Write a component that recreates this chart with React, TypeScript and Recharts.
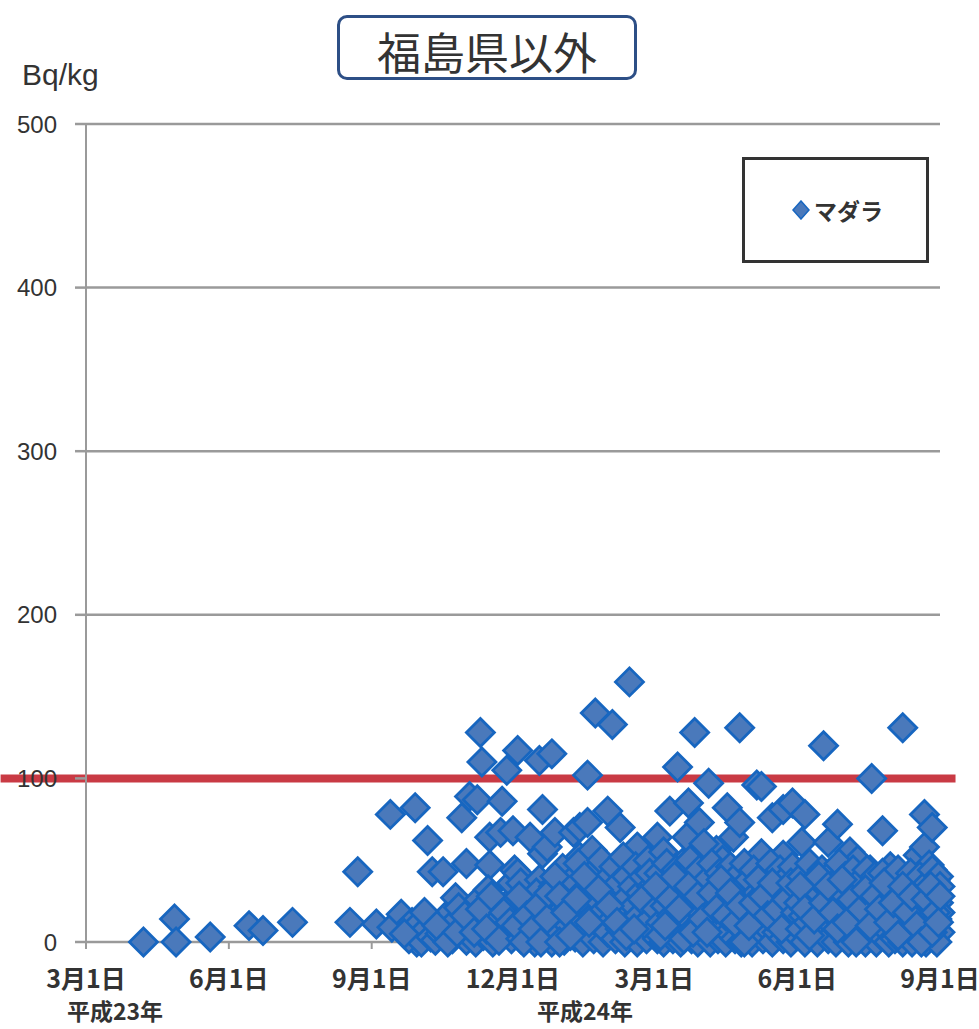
import { CartesianGrid, Legend, ReferenceLine, Scatter, ScatterChart, XAxis, YAxis } from "recharts";

// 2011年3月1日からの経過日数, セシウム濃度 (Bq/kg)
const early2011: [number, number][] = [
  [37, 0], [57, 14], [58, 0], [80, 3], [105, 10], [114, 7], [133, 12],
  [170, 12], [175, 43], [187, 11], [196, 78], [197, 9],
];

const autumn2011: [number, number][] = [
  [203, 17], [211, 7], [212, 82], [213, 0], [220, 62], [223, 43], [230, 43],
  [242, 76], [245, 48], [247, 89], [252, 87], [254, 128], [255, 110], [260, 47],
  [260, 64], [267, 67], [268, 86], [271, 105], [275, 68],
  [208, 2], [210, 12], [215, 12], [216, 0], [219, 8], [222, 3], [225, 1], [228, 5],
  [231, 15], [234, 9], [236, 2], [238, 27], [240, 21], [243, 4], [245, 1], [247, 10],
  [249, 15], [251, 0], [253, 26], [256, 4], [257, 12], [259, 32], [262, 0], [263, 20],
  [265, 14], [267, 6], [270, 9], [272, 24], [274, 36], [274, 2],
  [205, 5], [218, 18], [226, 10], [233, 0], [239, 6], [244, 16], [250, 6], [254, 20],
  [258, 8], [261, 28], [266, 1], [269, 18], [273, 12],
];

const winter2012: [number, number][] = [
  [276, 44], [278, 42], [278, 117], [280, 36], [286, 64], [292, 111], [294, 81],
  [292, 38], [294, 54], [294, 28], [297, 58], [300, 115], [302, 67], [314, 67],
  [318, 52], [318, 70], [323, 102], [323, 73], [323, 42], [326, 56], [328, 140],
  [336, 80], [339, 133], [344, 70], [350, 159], [355, 58],
  [280, 2], [281, 14], [283, 24], [285, 6], [287, 18], [289, 0], [290, 30], [292, 10],
  [295, 3], [296, 20], [299, 12], [300, 0], [301, 34], [303, 25], [304, 7], [306, 16],
  [307, 45], [308, 1], [310, 28], [311, 10], [313, 38], [314, 20], [315, 3], [317, 48],
  [318, 14], [319, 30], [320, 0], [322, 22], [323, 8], [325, 35], [326, 16], [327, 2],
  [328, 44], [329, 26], [331, 10], [332, 50], [333, 0], [334, 20], [335, 38], [336, 6],
  [338, 30], [339, 14], [340, 46], [341, 2], [342, 24], [343, 36], [344, 8], [345, 18],
  [346, 52], [347, 0], [348, 40], [349, 28], [350, 12], [351, 4], [352, 34], [353, 22],
  [354, 46], [355, 0], [356, 16], [357, 30], [358, 8], [359, 40], [360, 24], [361, 2],
  [362, 50], [363, 14], [364, 34], [365, 6],
  [277, 10], [279, 28], [282, 0], [284, 16], [288, 8], [291, 22], [293, 0], [297, 14],
  [298, 30], [305, 0], [302, 40], [305, 28], [309, 18], [312, 4], [316, 26], [321, 40],
  [324, 12], [330, 32], [337, 22], [342, 12], [348, 4], [353, 8], [358, 26], [363, 42],
];

const spring2012: [number, number][] = [
  [368, 64], [372, 55], [376, 80], [381, 107], [387, 64], [388, 85], [392, 128],
  [395, 73], [401, 97], [406, 56], [413, 82], [417, 64], [421, 73], [421, 131],
  [432, 96], [435, 95], [435, 54], [442, 76], [449, 81], [449, 53], [455, 85],
  [384, 48], [398, 60], [410, 50],
  [367, 20], [368, 2], [369, 42], [370, 12], [371, 30], [372, 0], [373, 22], [374, 48],
  [375, 8], [376, 36], [377, 16], [378, 2], [379, 26], [380, 44], [381, 10], [382, 32],
  [383, 0], [384, 18], [385, 40], [386, 6], [387, 28], [388, 14], [389, 50], [390, 2],
  [391, 22], [392, 36], [393, 10], [394, 0], [395, 44], [396, 18], [397, 30], [398, 4],
  [399, 12], [400, 38], [401, 24], [402, 0], [403, 48], [404, 16], [405, 8], [406, 32],
  [407, 2], [408, 42], [409, 20], [410, 12], [411, 28], [412, 0], [413, 36], [414, 6],
  [415, 46], [416, 18], [417, 26], [418, 2], [419, 40], [420, 10], [421, 32], [422, 0],
  [423, 20], [424, 48], [425, 14], [426, 4], [427, 38], [428, 26], [429, 0], [430, 44],
  [431, 12], [432, 30], [433, 6], [434, 20], [435, 40], [436, 2], [437, 16], [438, 34],
  [439, 8], [440, 24], [441, 48], [442, 0], [443, 14], [444, 36], [445, 6], [446, 28],
  [447, 44], [448, 18], [449, 2], [450, 32], [451, 10], [452, 40], [453, 22], [454, 0],
  [455, 46], [456, 14], [457, 28], [458, 4],
  [367, 34], [370, 4], [373, 10], [376, 26], [379, 40], [382, 20], [385, 2], [388, 34],
  [391, 6], [394, 28], [397, 14], [400, 6], [403, 30], [406, 20], [409, 38], [412, 16],
  [415, 30], [418, 12], [421, 22], [424, 0], [427, 10], [430, 24], [433, 38], [436, 28],
  [439, 16], [442, 36], [445, 20], [448, 8], [451, 26], [454, 36], [457, 18],
];

const summer2012: [number, number][] = [
  [461, 61], [463, 78], [475, 120], [478, 61], [484, 72], [492, 55], [497, 50],
  [505, 44], [506, 100], [513, 68], [518, 46], [526, 131], [536, 53], [540, 78],
  [540, 58], [543, 47], [545, 70], [547, 38],
  [459, 24], [460, 8], [461, 40], [462, 16], [463, 0], [464, 32], [465, 12], [466, 48],
  [467, 4], [468, 26], [469, 38], [470, 14], [471, 0], [472, 30], [473, 20], [474, 44],
  [475, 6], [476, 34], [477, 16], [478, 2], [479, 26], [480, 42], [481, 10], [482, 36],
  [483, 0], [484, 20], [485, 48], [486, 12], [487, 30], [488, 4], [489, 40], [490, 22],
  [491, 0], [492, 34], [493, 14], [494, 44], [495, 6], [496, 26], [497, 18], [498, 2],
  [499, 38], [500, 10], [501, 28], [502, 0], [503, 44], [504, 16], [505, 32], [506, 6],
  [507, 22], [508, 40], [509, 0], [510, 12], [511, 30], [512, 4], [513, 42], [514, 20],
  [515, 8], [516, 34], [517, 0], [518, 26], [519, 14], [520, 38], [521, 2], [522, 22],
  [523, 44], [524, 10], [525, 30], [526, 0], [527, 16], [528, 36], [529, 6], [530, 24],
  [531, 42], [532, 0], [533, 12], [534, 32], [535, 20], [536, 4], [537, 40], [538, 28],
  [539, 8], [540, 16], [541, 0], [542, 36], [543, 22], [544, 10], [545, 44], [546, 2],
  [547, 30], [548, 14], [549, 24], [550, 6], [549, 40], [550, 18], [548, 0], [550, 34],
  [460, 34], [463, 20], [466, 4], [469, 14], [472, 40], [475, 24], [478, 34], [481, 18],
  [484, 8], [487, 38], [490, 12], [493, 26], [496, 0], [499, 20], [502, 32], [505, 10],
  [508, 28], [511, 20], [514, 36], [517, 12], [520, 24], [523, 4], [526, 34], [529, 18],
  [532, 28], [535, 10], [538, 0], [541, 26], [544, 34], [547, 18], [545, 6], [550, 28],
  [549, 12],
];

const tickDays = [0, 92, 184, 275, 366, 458, 550];
const tickLabels = ["3月1日", "6月1日", "9月1日", "12月1日", "3月1日", "6月1日", "9月1日"];
const yTicks = [0, 100, 200, 300, 400, 500];
const eraLabels = ["平成23年", "平成24年"];
const limitBq = 100;
const seriesName = "マダラ";
const title = "福島県以外";

const points = [...early2011, ...autumn2011, ...winter2012, ...spring2012, ...summer2012].map(
  ([day, bq]) => ({ day, bq }),
);

const jp = '"Noto Sans CJK JP", "Noto Sans", sans-serif';
const fill = "#4a79bb";
const edge = "#1766c0";

function DiamondDot(props: any) {
  const { cx, cy } = props;
  if (cx == null || cy == null) return null;
  const r = 14;
  return (
    <path
      d={`M${cx} ${cy - r}L${cx + r} ${cy}L${cx} ${cy + r}L${cx - r} ${cy}Z`}
      fill={fill}
      stroke={edge}
      strokeWidth={2.8}
    />
  );
}

function LegendBox() {
  return (
    <div
      style={{
        boxSizing: "border-box",
        width: 187,
        height: 106,
        border: "3px solid #333",
        background: "#fff",
        display: "flex",
        alignItems: "center",
        paddingLeft: 46,
        fontFamily: jp,
        fontWeight: 700,
        fontSize: 23,
        color: "#333",
      }}
    >
      <svg width={20} height={20} style={{ marginRight: 3 }}>
        <path d="M10 1L18 10L10 19L2 10Z" fill={fill} stroke={edge} strokeWidth={1.5} />
      </svg>
      {seriesName}
    </div>
  );
}

export default function App() {
  return (
    <div style={{ position: "absolute", left: 0, top: 0, width: 979, height: 1029, background: "#fff" }}>
      <ScatterChart width={979} height={1029} margin={{ top: 124, right: 39, bottom: 47, left: 0 }}>
        <CartesianGrid vertical={false} stroke="#9a9a9a" strokeWidth={2.5} />
        <XAxis
          type="number"
          dataKey="day"
          domain={[0, 550]}
          ticks={tickDays}
          height={40}
          tickFormatter={(v: number) => tickLabels[tickDays.indexOf(v)] ?? ""}
          axisLine={{ stroke: "#9a9a9a", strokeWidth: 2 }}
          tickLine={{ stroke: "#9a9a9a", strokeWidth: 2 }}
          tickSize={7}
          tickMargin={21}
          tick={{ fill: "#333", fontSize: 25, fontWeight: 700, fontFamily: jp }}
          interval={0}
        />
        <YAxis
          type="number"
          dataKey="bq"
          domain={[0, 500]}
          ticks={yTicks}
          width={86}
          axisLine={{ stroke: "#9a9a9a", strokeWidth: 2 }}
          tickLine={{ stroke: "#9a9a9a", strokeWidth: 2.5 }}
          tickSize={11}
          tickMargin={18}
          tick={{ fill: "#333", fontSize: 24, fontFamily: '"Liberation Sans", Arial, sans-serif' }}
          interval={0}
        />
        <Scatter name={seriesName} data={points} shape={DiamondDot} isAnimationActive={false} />
        <ReferenceLine
          segment={[
            { x: -55, y: limitBq },
            { x: 560, y: limitBq },
          ]}
          ifOverflow="visible"
          stroke="#c93a44"
          strokeWidth={8}
        />
        <Legend
          layout="vertical"
          align="center"
          verticalAlign="middle"
          content={() => <LegendBox />}
          wrapperStyle={{ left: 742, top: 157, width: 187, height: 106 }}
        />
      </ScatterChart>

      <div
        style={{
          position: "absolute",
          left: 337,
          top: 15,
          width: 300,
          height: 65,
          boxSizing: "border-box",
          border: "3px solid #2d4f86",
          borderRadius: 10,
          display: "flex",
          alignItems: "center",
          justifyContent: "center",
          fontFamily: jp,
          fontSize: 44,
          color: "#333",
          paddingTop: 6,
        }}
      >
        {title}
      </div>
      <div
        style={{
          position: "absolute",
          left: 22,
          top: 60,
          fontFamily: '"Liberation Sans", Arial, sans-serif',
          fontSize: 30,
          lineHeight: "30px",
          color: "#333",
        }}
      >
        Bq/kg
      </div>
      {eraLabels.map((label, i) => (
        <div
          key={label}
          style={{
            position: "absolute",
            left: i === 0 ? 115 : 585,
            top: 994,
            transform: "translateX(-50%)",
            fontFamily: jp,
            fontWeight: 700,
            fontSize: 23,
            lineHeight: "32px",
            color: "#333",
            whiteSpace: "nowrap",
          }}
        >
          {label}
        </div>
      ))}
    </div>
  );
}
